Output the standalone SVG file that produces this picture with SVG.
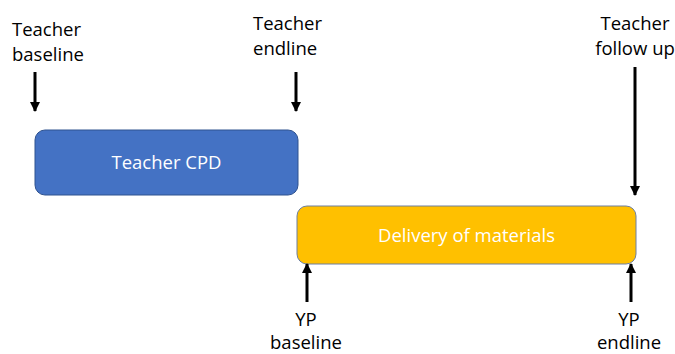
<svg xmlns="http://www.w3.org/2000/svg" width="675" height="354" viewBox="0 0 675 354">
<style>
.lbl{font-family:"Open Sans","Liberation Sans",sans-serif;font-size:18.5px;fill:#000}
.in{font-family:"Open Sans","Liberation Sans",sans-serif;font-size:18.5px;fill:#fff;text-anchor:middle}
.c{stroke:#000;stroke-width:3;fill:none}
</style>
<defs>
<marker id="ah" viewBox="0 0 10 10" refX="9" refY="5" markerWidth="3.4" markerHeight="3.4" orient="auto" markerUnits="strokeWidth">
<path d="M0,0 L10,5 L0,10 z" fill="#000"/>
</marker>
</defs>
<rect width="675" height="354" fill="#fff"/>
<g id="teacher-cpd">
<rect x="35" y="130" width="263" height="65" rx="10" fill="#4472C4" stroke="#2F528F" stroke-width="1"/>
<text class="in" x="166.5" y="169">Teacher CPD</text>
</g>
<g id="delivery">
<rect x="297" y="206" width="339" height="58" rx="10" fill="#FFC000" stroke="#6C7FA0" stroke-width="1"/>
<text class="in" x="466.5" y="242">Delivery of materials</text>
</g>
<g id="teacher-baseline">
<text class="lbl" x="12" y="36">Teacher</text>
<text class="lbl" x="12" y="61">baseline</text>
</g>
<g id="teacher-endline">
<text class="lbl" x="253" y="30">Teacher</text>
<text class="lbl" x="253" y="55">endline</text>
</g>
<g id="teacher-followup">
<text class="lbl" x="635" y="30" text-anchor="middle">Teacher</text>
<text class="lbl" x="635" y="55" text-anchor="middle">follow up</text>
</g>
<g id="yp-baseline">
<text class="lbl" x="306" y="326" text-anchor="middle">YP</text>
<text class="lbl" x="306" y="349" text-anchor="middle">baseline</text>
</g>
<g id="yp-endline">
<text class="lbl" x="629" y="326" text-anchor="middle">YP</text>
<text class="lbl" x="629" y="349" text-anchor="middle">endline</text>
</g>
<g id="connectors">
<line class="c" x1="35" y1="72" x2="35" y2="111" marker-end="url(#ah)"/>
<line class="c" x1="296" y1="72" x2="296" y2="111" marker-end="url(#ah)"/>
<line class="c" x1="635" y1="67" x2="635" y2="195" marker-end="url(#ah)"/>
<line class="c" x1="307" y1="302" x2="307" y2="264" marker-end="url(#ah)"/>
<line class="c" x1="631" y1="302" x2="631" y2="264" marker-end="url(#ah)"/>
</g>
</svg>
